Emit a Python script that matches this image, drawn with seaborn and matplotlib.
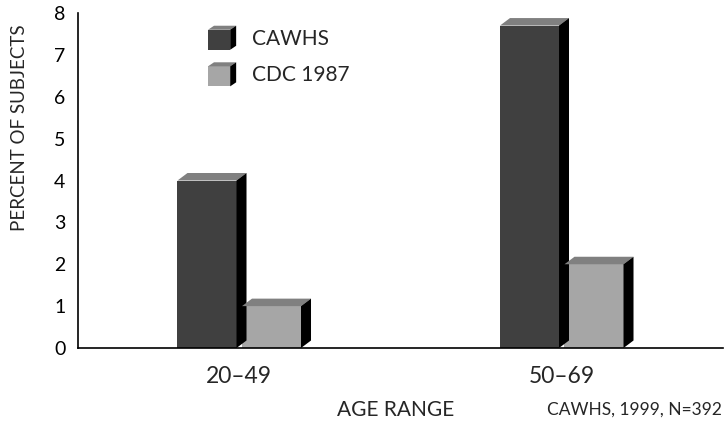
import matplotlib
matplotlib.use("Agg")
import matplotlib.pyplot as plt
from matplotlib.patches import Polygon, Rectangle
from matplotlib.legend_handler import HandlerBase
import pandas as pd
import seaborn as sns

# data
age_ranges = ["20–49", "50–69"]
cawhs = [4.0, 7.7]
cdc_1987 = [1.0, 2.0]
series_names = ["CAWHS", "CDC 1987"]

front_colors = {"CAWHS": "#404040", "CDC 1987": "#a6a6a6"}
top_color = "#808080"
side_color = "#000000"

df = pd.DataFrame({
    "age": age_ranges * 2,
    "pct": cawhs + cdc_1987,
    "series": [series_names[0]] * 2 + [series_names[1]] * 2,
})

sns.set_style("white")
plt.rcParams["font.family"] = ["Lato", "DejaVu Sans"]

fig = plt.figure(figsize=(7.25, 4.28), dpi=100)
ax = fig.add_axes([78 / 725, 1 - 348 / 428, 645 / 725, 335 / 428])

sns.barplot(data=df, x="age", y="pct", hue="series", order=age_ranges,
            hue_order=series_names, palette=front_colors, width=0.4, gap=0.085,
            saturation=1, legend=False, linewidth=0, ax=ax)

ax.set_xlim(-0.5, 1.5)
ax.set_ylim(0, 8)

# 3d depth in pixels -> data units
dx = 10 * 2.0 / 645
dy = 7.5 * 8.0 / 335

for bar in list(ax.patches):
    x, w, h = bar.get_x(), bar.get_width(), bar.get_height()
    top = Polygon([(x, h), (x + dx, h + dy), (x + w + dx, h + dy), (x + w, h)],
                  closed=True, facecolor=top_color, edgecolor="none", clip_on=False)
    side = Polygon([(x + w, 0), (x + w + dx, dy), (x + w + dx, h + dy), (x + w, h)],
                   closed=True, facecolor=side_color, edgecolor="none", clip_on=False)
    ax.add_patch(top)
    ax.add_patch(side)


class Box3DHandler(HandlerBase):
    def create_artists(self, legend, orig_handle, xdescent, ydescent,
                       width, height, fontsize, trans):
        d, e = 4.3, 2.9  # points
        fw, fh = width - d, height - e
        x0, y0 = -xdescent, -ydescent
        front = Rectangle((x0, y0), fw, fh, facecolor=orig_handle.get_facecolor(),
                          edgecolor="none", transform=trans)
        top = Polygon([(x0, y0 + fh), (x0 + d, y0 + fh + e), (x0 + fw + d, y0 + fh + e),
                       (x0 + fw, y0 + fh)], facecolor=top_color, edgecolor="none",
                      transform=trans)
        side = Polygon([(x0 + fw, y0), (x0 + fw + d, y0 + e), (x0 + fw + d, y0 + fh + e),
                        (x0 + fw, y0 + fh)], facecolor=side_color, edgecolor="none",
                       transform=trans)
        return [front, top, side]


handles = [Rectangle((0, 0), 1, 1, facecolor=front_colors[s]) for s in series_names]
ax.legend(handles, series_names, handler_map={Rectangle: Box3DHandler()},
          loc="upper left", bbox_to_anchor=(0.2016, 0.962), frameon=False,
          fontsize=15, handlelength=1.35, handleheight=1.4, handletextpad=0.75,
          labelspacing=0.6, borderpad=0, borderaxespad=0)

# axes styling
for s in ["top", "right"]:
    ax.spines[s].set_visible(False)
for s in ["left", "bottom"]:
    ax.spines[s].set_linewidth(1.2)
    ax.spines[s].set_color("black")

ax.set_yticks(range(0, 9))
ax.tick_params(axis="y", direction="in", length=10, width=1.2, labelsize=14,
               pad=9, colors="black")
ax.set_xticks([0, 1], age_ranges)
ax.set_xticks([-0.5, 0.5, 1.5], minor=True)
ax.tick_params(axis="x", which="major", length=0, labelsize=16.5, pad=13)
ax.tick_params(axis="x", which="minor", direction="in", length=7, width=1.2)

ax.set_ylabel("")
ax.set_xlabel("AGE RANGE", fontsize=15)
ax.xaxis.set_label_coords((396 - 78) / 645, -(410 - 348) / 335)
ax.xaxis.label.set_va("center")

fig.text(20 / 725, 1 - 128 / 428, "PERCENT OF SUBJECTS", rotation=90,
         fontsize=13.5, ha="center", va="center")
fig.text(722 / 725, 1 - 410 / 428, "CAWHS, 1999, N=392", fontsize=12.5,
         ha="right", va="center")

fig.savefig("out.png", dpi=100)
